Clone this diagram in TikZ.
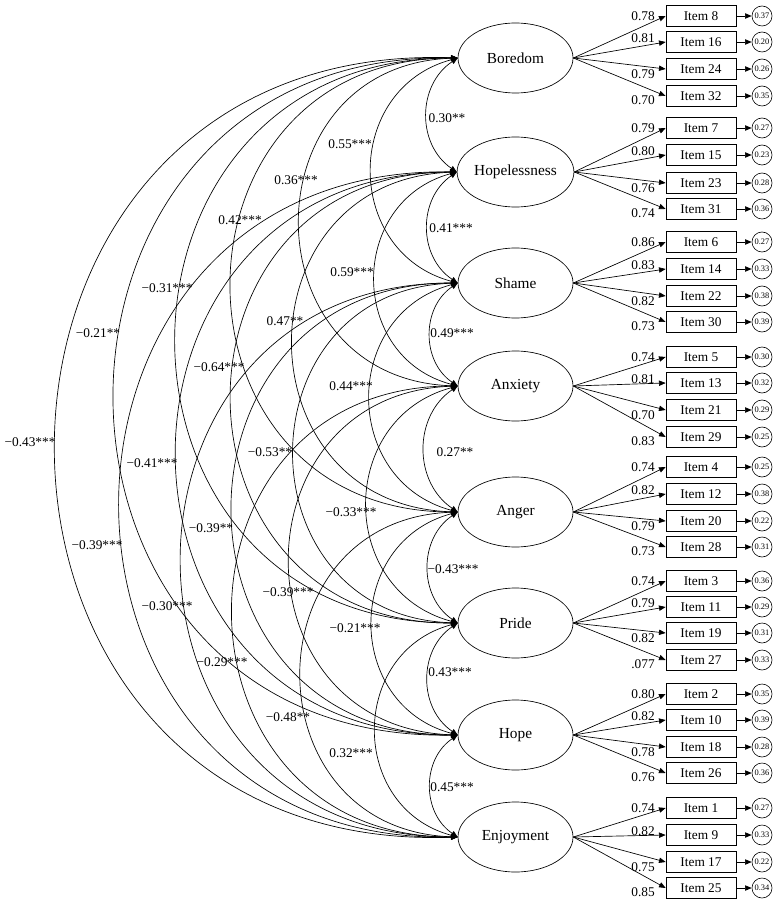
\documentclass[tikz,border=0pt]{standalone}
\usepackage{fontspec}
\setmainfont{Liberation Serif}
\usetikzlibrary{arrows.meta,shapes.geometric}

\begin{document}
\begin{tikzpicture}[x=0.75pt,y=-0.75pt,>={Triangle[length=5pt,width=4pt]},
    font=\fontsize{10}{12}\selectfont,
    factor/.style={draw,line width=0.5pt,ellipse,minimum width=86.25pt,minimum height=52.5pt,
      inner sep=0pt,font=\fontsize{11.5}{13}\selectfont},
    itembox/.style={draw,line width=0.5pt,minimum width=52.5pt,minimum height=15.75pt,inner sep=0pt},
    errc/.style={draw,line width=0.45pt,circle,minimum size=15pt,inner sep=0pt,
      font=\fontsize{6.3}{7}\selectfont},
    cov/.style={<->,line width=0.5pt},
    load/.style={->,line width=0.5pt},
    lbl/.style={inner sep=0pt}]
  \useasboundingbox (0,0) rectangle (776,905);
  % latent factors
  \foreach \i/\yy/\t in {1/58/Boredom,2/172/Hopelessness,3/283/Shame,4/386/Anxiety,
      5/512/Anger,6/623/Pride,7/735/Hope,8/837/Enjoyment}
    \node[factor] (f\i) at (515.5,\yy) {\t};
  % items, loadings and error terms
  \foreach \f/\k/\n/\yy/\ld/\er in {
      1/1/8/16/0.78/0.37, 1/2/16/42/0.81/0.20, 1/3/24/69/0.79/0.26, 1/4/32/96/0.70/0.35,
      2/1/7/128/0.79/0.27, 2/2/15/155/0.80/0.23, 2/3/23/183/0.76/0.28, 2/4/31/209/0.74/0.36,
      3/1/6/242/0.86/0.27, 3/2/14/269/0.83/0.33, 3/3/22/296/0.82/0.38, 3/4/30/322/0.73/0.39,
      4/1/5/357/0.74/0.30, 4/2/13/383/0.81/0.32, 4/3/21/410/0.70/0.29, 4/4/29/437/0.83/0.25,
      5/1/4/467/0.74/0.25, 5/2/12/494/0.82/0.38, 5/3/20/521/0.79/0.22, 5/4/28/547/0.73/0.31,
      6/1/3/581/0.74/0.36, 6/2/11/607/0.79/0.29, 6/3/19/633/0.82/0.31, 6/4/27/660/.077/0.33,
      7/1/2/694/0.80/0.35, 7/2/10/720/0.82/0.39, 7/3/18/747/0.78/0.28, 7/4/26/773/0.76/0.36,
      8/1/1/808/0.74/0.27, 8/2/9/835/0.82/0.33, 8/3/17/862/0.75/0.22, 8/4/25/888/0.85/0.34}{
    \node[itembox] (i\n) at (701,\yy) {Item \n};
    \node[errc] (e\n) at (762,\yy) {\er};
    \pgfmathsetmacro\dy{{0,3,-3.75,-3}[\k-1]}
    \draw[load] (f\f.east) -- (i\n.west)
      node[lbl,pos=1,anchor=east,xshift=-8pt,yshift=\dy pt] (l\n) {\ld};
    \draw[load] (i\n) -- (e\n);
  }
  % covariances: circular arcs on the left
  \foreach \i in {1,...,7}{
    \pgfmathtruncatemacro\s{\i+1}
    \foreach \j in {\s,...,8}{
      \pgfmathtruncatemacro\g{\j-\i-1}
      \pgfmathsetmacro\bendang{{56,75,88,90,90,91,92}[\g]}
      \pgfmathsetmacro\loose{(2/3)*tan(\bendang/2)/sin(\bendang)/0.3915}
      \draw[cov] (f\i.west) to[bend right=\bendang,looseness=\loose] (f\j.west);
    }
  }
  \foreach \n/\x/\y/\t in {
      12/447/118/0.30**, 23/451/228/0.41***, 34/452/333/0.49***, 45/455/452/0.27**,
      56/453/569/−0.43***, 67/450/672/0.43***, 78/452/787/0.45***,
      13/350/144/0.55***, 24/352/272/0.59***, 35/351/386/0.44***, 46/351/512/−0.33***,
      57/355/628/−0.21***, 68/351/753/0.32***,
      14/296/180/0.36***, 25/285/321/0.47**, 36/270/452/−0.53**, 47/288/592/−0.39***,
      58/288/717/−0.48**,
      15/240/220/0.42***, 26/219/367/−0.64***, 37/211/528/−0.39**, 48/222/662/−0.29***,
      16/167/288/−0.31***, 27/152/463/−0.41***, 38/167/606/−0.30***,
      17/98/333/−0.21**, 28/97/545/−0.39***,
      18/30/442/−0.43***}
    \node[lbl] (c\n) at (\x,\y) {\t};
\end{tikzpicture}
\end{document}
